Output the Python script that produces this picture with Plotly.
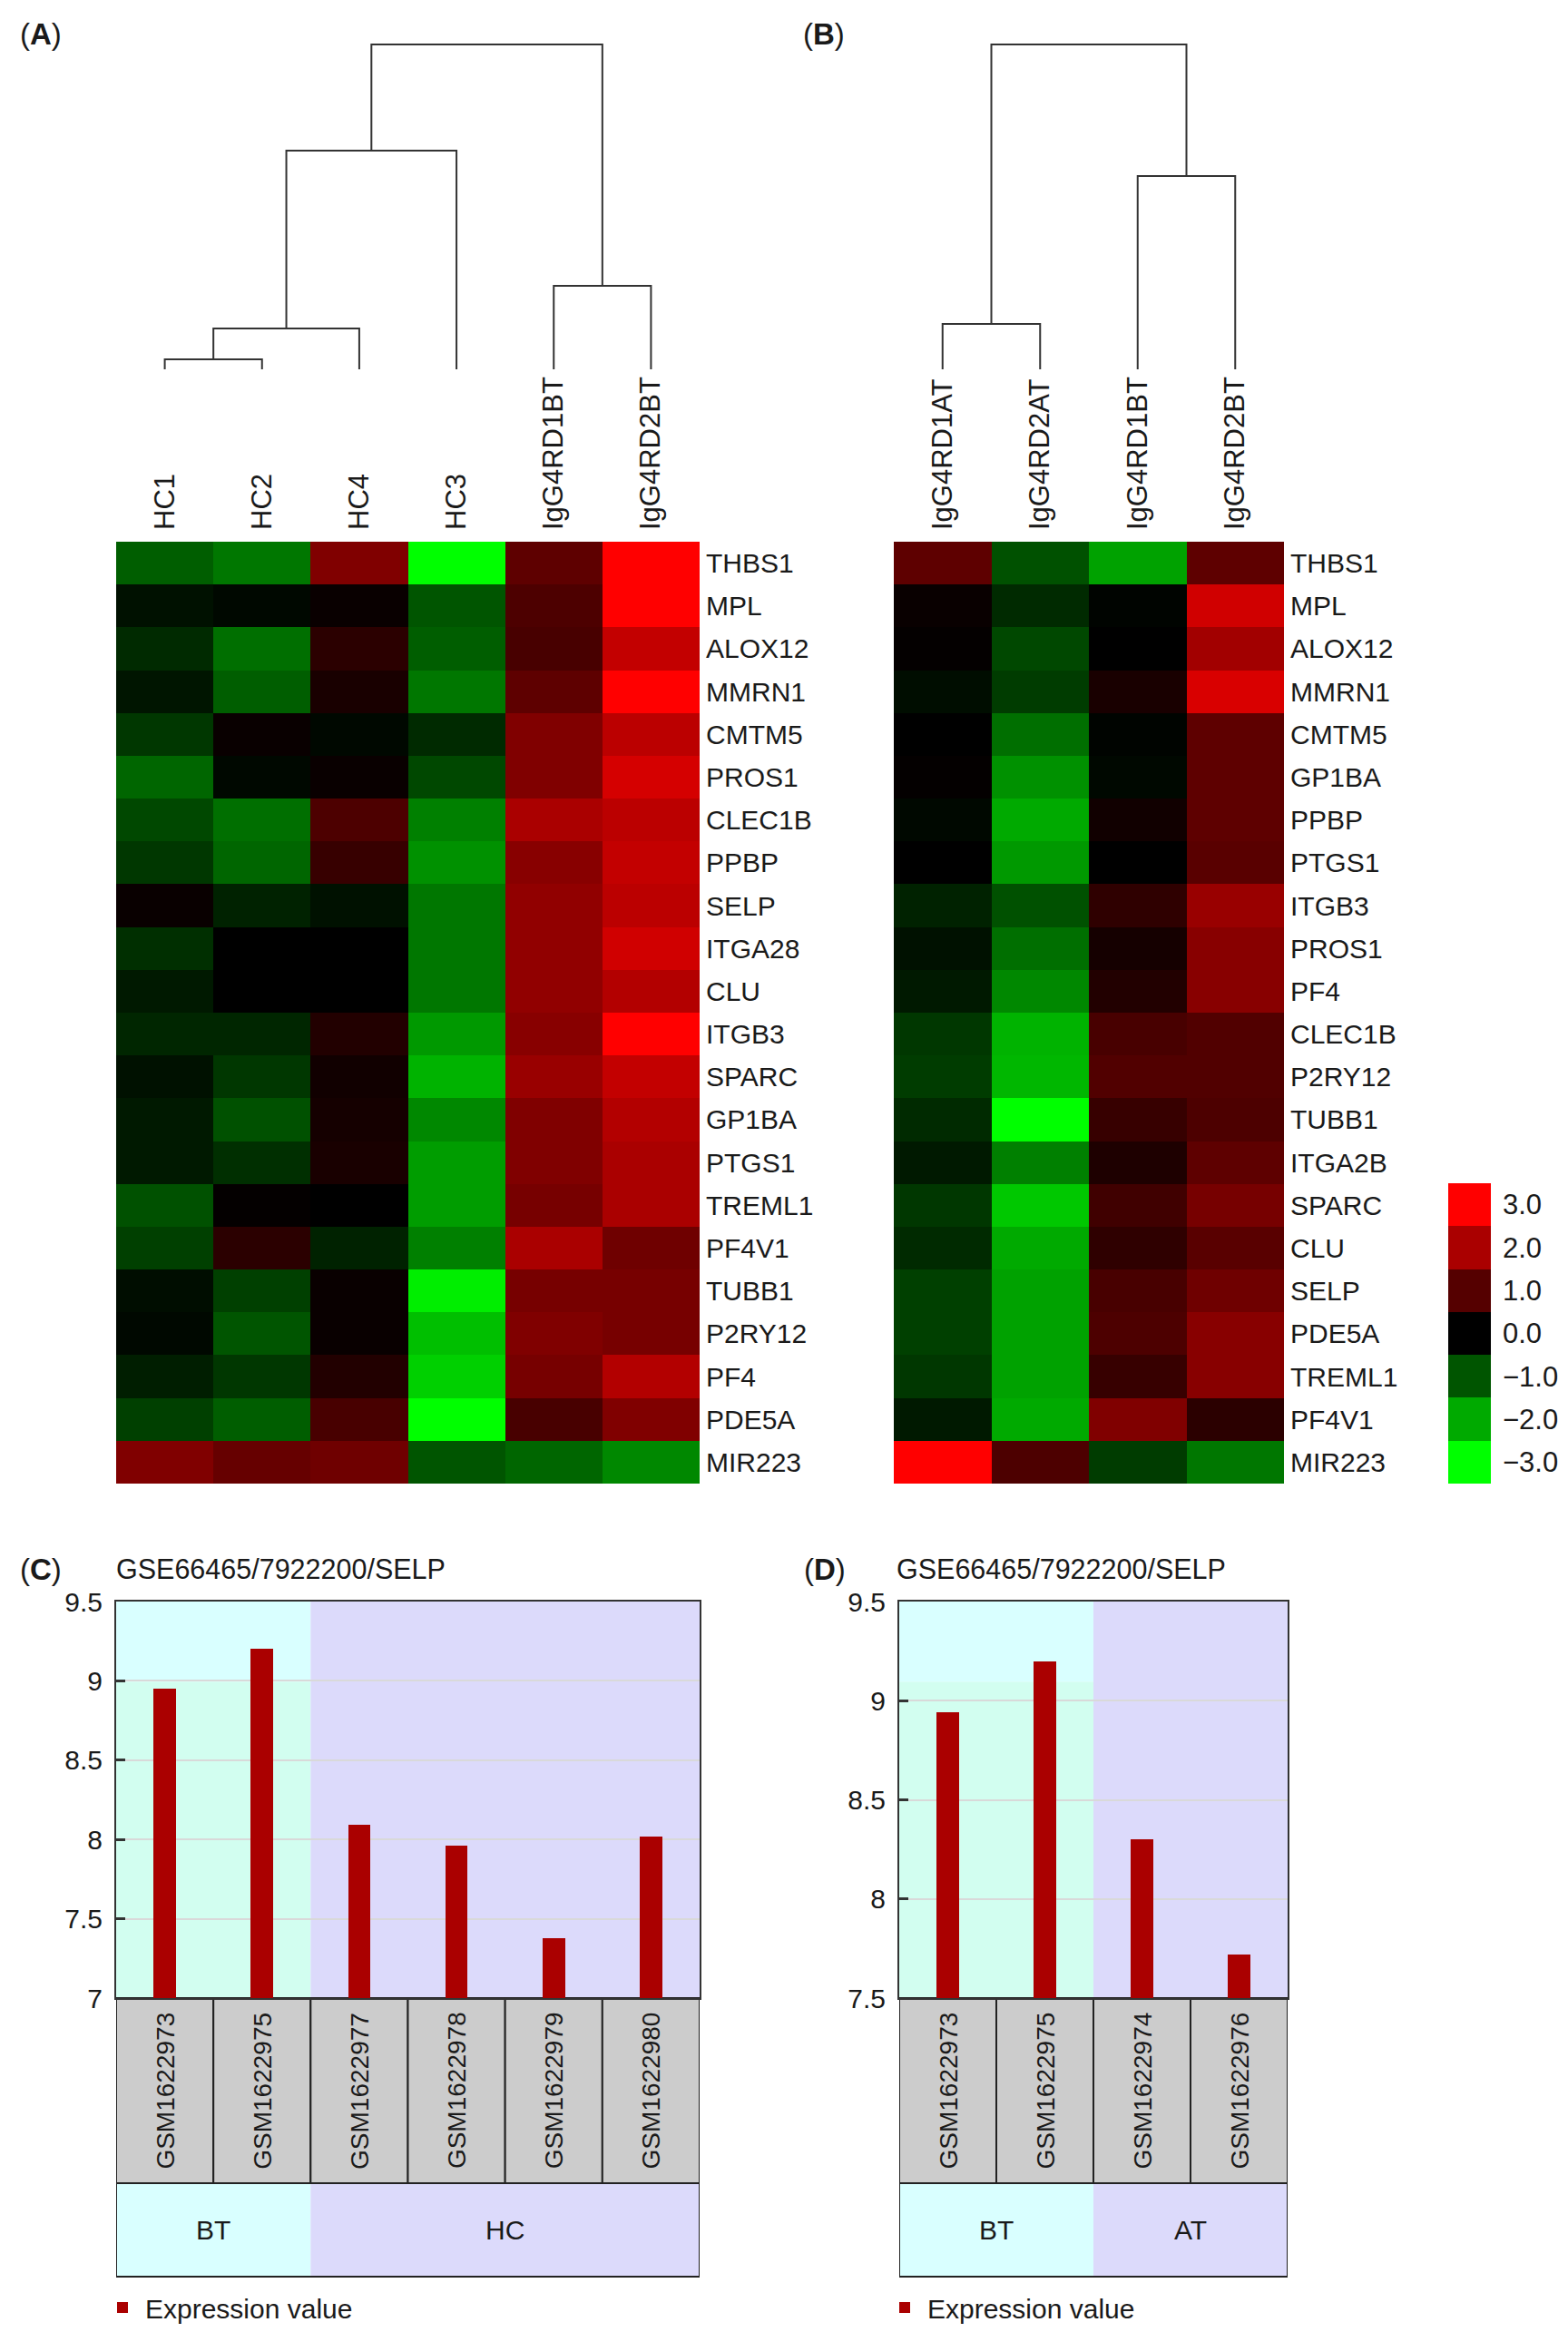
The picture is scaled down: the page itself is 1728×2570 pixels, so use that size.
import plotly.graph_objects as go

W, H = 1728, 2570
FONT = "Liberation Sans, Arial, sans-serif"
TXT = "#1a1a1a"

# ---------------- data ----------------
samplesA = ["HC1", "HC2", "HC4", "HC3", "IgG4RD1BT", "IgG4RD2BT"]
genesA = ["THBS1", "MPL", "ALOX12", "MMRN1", "CMTM5", "PROS1", "CLEC1B", "PPBP", "SELP",
          "ITGA28", "CLU", "ITGB3", "SPARC", "GP1BA", "PTGS1", "TREML1", "PF4V1", "TUBB1",
          "P2RY12", "PF4", "PDE5A", "MIR223"]
zA = [
    [-1.1, -1.4, 1.5, -3.0, 1.1, 3.0],
    [-0.2, -0.1, 0.1, -1.0, 0.9, 3.0],
    [-0.5, -1.3, 0.5, -1.1, 0.85, 2.3],
    [-0.25, -1.1, 0.3, -1.4, 1.1, 3.0],
    [-0.65, 0.1, -0.1, -0.5, 1.5, 2.2],
    [-1.2, -0.1, 0.1, -0.85, 1.5, 2.5],
    [-0.85, -1.3, 0.9, -1.5, 2.0, 2.2],
    [-0.65, -1.2, 0.65, -1.7, 1.6, 2.3],
    [0.1, -0.4, -0.2, -1.4, 1.7, 2.2],
    [-0.55, 0.0, 0.0, -1.4, 1.7, 2.45],
    [-0.3, 0.0, 0.0, -1.4, 1.7, 2.1],
    [-0.45, -0.45, 0.4, -1.8, 1.6, 3.0],
    [-0.2, -0.65, 0.2, -2.1, 1.8, 2.3],
    [-0.3, -0.95, 0.25, -1.6, 1.5, 2.1],
    [-0.3, -0.55, 0.3, -1.85, 1.5, 2.0],
    [-0.95, 0.05, 0.0, -1.85, 1.4, 2.0],
    [-0.75, 0.5, -0.4, -1.5, 2.0, 1.3],
    [-0.15, -0.75, 0.1, -2.8, 1.4, 1.4],
    [-0.1, -1.0, 0.1, -2.25, 1.5, 1.4],
    [-0.35, -0.65, 0.4, -2.45, 1.4, 2.1],
    [-0.75, -1.1, 0.85, -3.0, 0.85, 1.5],
    [1.5, 1.2, 1.3, -1.0, -1.2, -1.6],
]
mergesA = [("HC1", "HC2", 1.1), ("n0", "HC4", 4.5), ("n1", "HC3", 24.1),
           ("IgG4RD1BT", "IgG4RD2BT", 9.2), ("n2", "n3", 35.8)]

samplesB = ["IgG4RD1AT", "IgG4RD2AT", "IgG4RD1BT", "IgG4RD2BT"]
genesB = ["THBS1", "MPL", "ALOX12", "MMRN1", "CMTM5", "GP1BA", "PPBP", "PTGS1", "ITGB3",
          "PROS1", "PF4", "CLEC1B", "P2RY12", "TUBB1", "ITGA2B", "SPARC", "CLU", "SELP",
          "PDE5A", "TREML1", "PF4V1", "MIR223"]
zB = [
    [1.1, -0.95, -1.9, 1.1],
    [0.1, -0.5, -0.05, 2.45],
    [0.05, -0.85, 0.0, 1.9],
    [-0.15, -0.7, 0.3, 2.55],
    [0.0, -1.3, -0.05, 1.1],
    [0.05, -1.7, -0.1, 1.1],
    [-0.1, -2.0, 0.2, 1.1],
    [0.0, -1.8, 0.0, 1.05],
    [-0.4, -0.95, 0.55, 1.8],
    [-0.2, -1.3, 0.25, 1.6],
    [-0.3, -1.6, 0.4, 1.6],
    [-0.65, -2.1, 0.85, 0.95],
    [-0.7, -2.15, 0.95, 0.95],
    [-0.5, -3.0, 0.65, 0.9],
    [-0.3, -1.5, 0.35, 1.1],
    [-0.65, -2.35, 0.75, 1.4],
    [-0.5, -2.0, 0.55, 1.05],
    [-0.75, -1.9, 0.85, 1.3],
    [-0.75, -1.9, 0.9, 1.6],
    [-0.65, -1.9, 0.65, 1.6],
    [-0.3, -2.0, 1.5, 0.5],
    [3.0, 0.9, -0.7, -1.4],
]
mergesB = [("IgG4RD1AT", "IgG4RD2AT", 5.0), ("IgG4RD1BT", "IgG4RD2BT", 21.3), ("n0", "n1", 35.8)]

scale_vals = [3, 2, 1, 0, -1, -2, -3]
scale_labels = ["3.0", "2.0", "1.0", "0.0", "\u22121.0", "\u22122.0", "\u22123.0"]

title_C = "GSE66465/7922200/SELP"
samplesC = ["GSM1622973", "GSM1622975", "GSM1622977", "GSM1622978", "GSM1622979", "GSM1622980"]
valuesC = [8.95, 9.20, 8.09, 7.96, 7.38, 8.02]
groupsC = ["BT", "BT", "HC", "HC", "HC", "HC"]
ticksC = [7, 7.5, 8, 8.5, 9, 9.5]
ticktextC = ["7", "7.5", "8", "8.5", "9", "9.5"]

title_D = "GSE66465/7922200/SELP"
samplesD = ["GSM1622973", "GSM1622975", "GSM1622974", "GSM1622976"]
valuesD = [8.94, 9.20, 8.30, 7.72]
groupsD = ["BT", "BT", "AT", "AT"]
ticksD = [7.5, 8, 8.5, 9, 9.5]
ticktextD = ["7.5", "8", "8.5", "9", "9.5"]

# ---------------- helpers ----------------
def xdom(a, b):
    return [a / W, b / W]

def ydom(top, bottom):
    return [1 - bottom / H, 1 - top / H]

def px_x(p):
    return p / W

def px_y(p):
    return 1 - p / H

colorscale = [[0.0, "#00FF00"], [0.5, "#000000"], [1.0, "#FF0000"]]
group_colors = {"BT": "#D9FFFF", "HC": "#DCDAFB", "AT": "#DCDAFB"}
BT_LOWER = "#D2FEF0"

def dendro(leaves, merges):
    pos = {name: (i, 0.0) for i, name in enumerate(leaves)}
    xs, ys = [], []
    for k, (a, b, h) in enumerate(merges):
        xa, ya = pos[a]
        xb, yb = pos[b]
        xs += [xa, xa, xb, xb, None]
        ys += [ya, h, h, yb, None]
        pos["n%d" % k] = ((xa + xb) / 2, h)
    return xs, ys

def spans(groups):
    out = []
    start = 0
    for i in range(1, len(groups) + 1):
        if i == len(groups) or groups[i] != groups[start]:
            out.append((groups[start], start - 0.5, i - 0.5))
            start = i
    return out

fig = go.Figure()
shapes = []
annotations = []

# ---------------- heatmap A ----------------
fig.add_trace(go.Heatmap(z=zA, x=samplesA, y=genesA, colorscale=colorscale, zmin=-3, zmax=3,
                         showscale=False, xaxis="x", yaxis="y", hoverinfo="skip"))
xs, ys = dendro(samplesA, mergesA)
fig.add_trace(go.Scatter(x=xs, y=ys, mode="lines", line=dict(color="#333333", width=2),
                         xaxis="x2", yaxis="y2", showlegend=False, hoverinfo="skip"))

# ---------------- heatmap B ----------------
fig.add_trace(go.Heatmap(z=zB, x=samplesB, y=genesB, colorscale=colorscale, zmin=-3, zmax=3,
                         showscale=False, xaxis="x3", yaxis="y3", hoverinfo="skip"))
xs, ys = dendro(samplesB, mergesB)
fig.add_trace(go.Scatter(x=xs, y=ys, mode="lines", line=dict(color="#333333", width=2),
                         xaxis="x4", yaxis="y4", showlegend=False, hoverinfo="skip"))

# ---------------- colour key ----------------
fig.add_trace(go.Heatmap(z=[[v] for v in scale_vals], x=["key"], y=scale_labels,
                         colorscale=colorscale, zmin=-3, zmax=3, showscale=False,
                         xaxis="x5", yaxis="y5", hoverinfo="skip"))

# ---------------- bar panels ----------------
def bar_panel(xa, ya, xs_, ys_, xg, yg, samples, values, groups, legend):
    fig.add_trace(go.Bar(x=samples, y=values, width=0.23, marker=dict(color="#AA0000", line=dict(width=0)),
                         name="Expression value", xaxis=xa, yaxis=ya, legend=legend, showlegend=True,
                         hoverinfo="skip"))
    n = len(samples)
    for g, a, b in spans(groups):
        if g == "BT":
            shapes.append(dict(type="rect", xref=xa, yref=ya + " domain", x0=a, x1=b, y0=0, y1=1 - 88 / 436,
                               fillcolor=BT_LOWER, line=dict(width=0), layer="below"))
            shapes.append(dict(type="rect", xref=xa, yref=ya + " domain", x0=a, x1=b, y0=1 - 88 / 436, y1=1,
                               fillcolor=group_colors[g], line=dict(width=0), layer="below"))
        else:
            shapes.append(dict(type="rect", xref=xa, yref=ya + " domain", x0=a, x1=b, y0=0, y1=1,
                               fillcolor=group_colors[g], line=dict(width=0), layer="below"))
        shapes.append(dict(type="rect", xref=xg, yref=yg + " domain", x0=a, x1=b, y0=0, y1=1,
                           fillcolor=group_colors[g], line=dict(width=0), layer="below"))
        annotations.append(dict(text=g, xref=xg, yref=yg + " domain", x=(a + b) / 2, y=0.5,
                                showarrow=False, font=dict(size=30, color=TXT, family=FONT)))
    shapes.append(dict(type="rect", xref=xg, yref=yg + " domain", x0=-0.5, x1=n - 0.5, y0=0, y1=1,
                       line=dict(color="#222222", width=2), layer="above"))
    for i, s in enumerate(samples):
        shapes.append(dict(type="rect", xref=xs_, yref=ys_ + " domain", x0=i - 0.5, x1=i + 0.5, y0=0, y1=1,
                           fillcolor="#CCCCCC", line=dict(color="#222222", width=2), layer="below"))
        annotations.append(dict(text=s, xref=xs_, yref=ys_ + " domain", x=i, y=0.5, textangle=-90,
                                showarrow=False, font=dict(size=28, color=TXT, family=FONT)))

bar_panel("x6", "y6", "x7", "y7", "x8", "y8", samplesC, valuesC, groupsC, "legend")
bar_panel("x9", "y9", "x10", "y10", "x11", "y11", samplesD, valuesD, groupsD, "legend2")

# ---------------- panel labels / titles ----------------
for txt, x, y in [("(<b>A</b>)", 20, 38), ("(<b>B</b>)", 883, 38), ("(<b>C</b>)", 20, 1729), ("(<b>D</b>)", 884, 1729)]:
    annotations.append(dict(text=txt, xref="paper", yref="paper", x=px_x(x), y=px_y(y), xanchor="left",
                            yanchor="middle", showarrow=False, font=dict(size=33, color=TXT, family=FONT)))
for txt, x in [(title_C, 126), (title_D, 986)]:
    annotations.append(dict(text=txt, xref="paper", yref="paper", x=px_x(x), y=px_y(1729), xanchor="left",
                            yanchor="middle", showarrow=False, font=dict(size=30.5, color=TXT, family=FONT)))

hidden = dict(visible=False, showgrid=False, zeroline=False, fixedrange=True, automargin=False)

def bar_y(dom, rng, tv, tt, anchor):
    return dict(domain=dom, range=rng, tickvals=tv, ticktext=tt, showgrid=True, gridcolor="#D9D9D9",
                gridwidth=2, zeroline=False, showline=True, mirror=True, linecolor="#333333", linewidth=2,
                ticks="inside", ticklen=10, tickwidth=3, tickcolor="#333333", anchor=anchor, automargin=False,
                tickfont=dict(size=30, color=TXT, family=FONT), ticklabelstandoff=7)

def bar_x(dom, n, anchor):
    return dict(domain=dom, range=[-0.5, n - 0.5], showticklabels=False, ticks="", showgrid=False,
                zeroline=False, showline=True, mirror=True, linecolor="#333333", linewidth=2, anchor=anchor,
                automargin=False)

HM_TOP, HM_BOT = 597, 1635

layout = dict(
    width=W, height=H, autosize=False, margin=dict(l=0, r=0, t=0, b=0, pad=0, autoexpand=False),
    paper_bgcolor="white", plot_bgcolor="white",
    font=dict(family=FONT, color=TXT),
    # heatmap A
    xaxis=dict(domain=xdom(128, 771), side="top", tickangle=-90, ticks="", showgrid=False, zeroline=False,
               tickfont=dict(size=31, color=TXT, family=FONT), anchor="y", ticklabelstandoff=12,
               automargin=False),
    yaxis=dict(domain=ydom(HM_TOP, HM_BOT), side="right", autorange="reversed", ticks="", showgrid=False,
               zeroline=False, tickfont=dict(size=30, color=TXT, family=FONT), anchor="x",
               ticklabelstandoff=6, automargin=False),
    xaxis2=dict(domain=xdom(128, 771), range=[-0.5, len(samplesA) - 0.5], anchor="y2", **hidden),
    yaxis2=dict(domain=ydom(40, 407), range=[0, 36.7], anchor="x2", **hidden),
    # heatmap B
    xaxis3=dict(domain=xdom(985, 1415), side="top", tickangle=-90, ticks="", showgrid=False, zeroline=False,
                tickfont=dict(size=31, color=TXT, family=FONT), anchor="y3", ticklabelstandoff=12,
                automargin=False),
    yaxis3=dict(domain=ydom(HM_TOP, HM_BOT), side="right", autorange="reversed", ticks="", showgrid=False,
                zeroline=False, tickfont=dict(size=30, color=TXT, family=FONT), anchor="x3",
                ticklabelstandoff=6, automargin=False),
    xaxis4=dict(domain=xdom(985, 1415), range=[-0.5, len(samplesB) - 0.5], anchor="y4", **hidden),
    yaxis4=dict(domain=ydom(40, 407), range=[0, 36.7], anchor="x4", **hidden),
    # key
    xaxis5=dict(domain=xdom(1596, 1643), anchor="y5", **hidden),
    yaxis5=dict(domain=ydom(1304, 1635), side="right", autorange="reversed", ticks="", showgrid=False,
                zeroline=False, tickfont=dict(size=31, color=TXT, family=FONT), anchor="x5",
                ticklabelstandoff=12, automargin=False),
    # C
    xaxis6=bar_x(xdom(128, 771), len(samplesC), "y6"),
    yaxis6=bar_y(ydom(1765, 2202), [7, 9.5], ticksC, ticktextC, "x6"),
    xaxis7=dict(domain=xdom(128, 771), range=[-0.5, len(samplesC) - 0.5], anchor="y7", **hidden),
    yaxis7=dict(domain=ydom(2202, 2406), range=[0, 1], anchor="x7", **hidden),
    xaxis8=dict(domain=xdom(128, 771), range=[-0.5, len(samplesC) - 0.5], anchor="y8", **hidden),
    yaxis8=dict(domain=ydom(2406, 2509), range=[0, 1], anchor="x8", **hidden),
    # D
    xaxis9=bar_x(xdom(991, 1419), len(samplesD), "y9"),
    yaxis9=bar_y(ydom(1765, 2202), [7.5, 9.5], ticksD, ticktextD, "x9"),
    xaxis10=dict(domain=xdom(991, 1419), range=[-0.5, len(samplesD) - 0.5], anchor="y10", **hidden),
    yaxis10=dict(domain=ydom(2202, 2406), range=[0, 1], anchor="x10", **hidden),
    xaxis11=dict(domain=xdom(991, 1419), range=[-0.5, len(samplesD) - 0.5], anchor="y11", **hidden),
    yaxis11=dict(domain=ydom(2406, 2509), range=[0, 1], anchor="x11", **hidden),
    legend=dict(x=px_x(110), y=px_y(2543), xanchor="left", yanchor="middle", bgcolor="rgba(0,0,0,0)",
                font=dict(size=30, color=TXT, family=FONT), orientation="h", itemwidth=40),
    legend2=dict(x=px_x(972), y=px_y(2543), xanchor="left", yanchor="middle", bgcolor="rgba(0,0,0,0)",
                 font=dict(size=30, color=TXT, family=FONT), orientation="h", itemwidth=40),
    shapes=shapes,
    annotations=annotations,
    bargap=0,
)
fig.update_layout(**layout)

fig.write_html("out.html", config={"displayModeBar": False},
               post_script="document.body.style.margin='0';document.body.style.overflow='hidden';")
